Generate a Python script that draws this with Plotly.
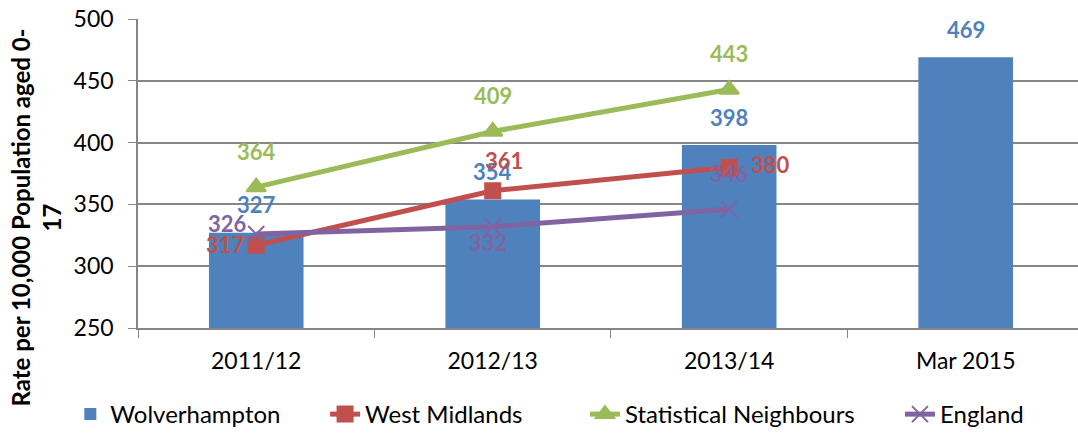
""" Rate per 10,000 population aged 0-17: Wolverhampton vs comparators. """

import plotly.graph_objects as go

# Chart data
periods       = ['2011/12', '2012/13', '2013/14', 'Mar 2015']
wolverhampton = [327, 354, 398, 469]
west_midlands = [317, 361, 380]
stat_neigh    = [364, 409, 443]
england       = [326, 332, 346]

FONT = 'Lato'
BLUE, RED, GREEN, PURPLE = '#4F81BD', '#C0504D', '#9BBB59', '#8064A2'
GRID = '#868686'

fig = go.Figure()

fig.add_trace( go.Bar( x=periods, y=wolverhampton, name='Wolverhampton',
                       marker_color=BLUE, marker_line_width=0, legend='legend' ) )

line_series = [
    ( 'West Midlands', west_midlands, RED, 'square', 15, 'legend2' ),
    ( 'Statistical Neighbours', stat_neigh, GREEN, 'triangle-up', 17, 'legend3' ),
    ( 'England', england, PURPLE, 'x-thin', 16, 'legend4' ),
]
for name, values, colour, symbol, size, leg in line_series:
    fig.add_trace( go.Scatter( x=periods[:len(values)], y=values, name=name,
                               mode='lines+markers', legend=leg,
                               line=dict( color=colour, width=5 ),
                               marker=dict( symbol=symbol, size=size, color=colour,
                                            line=dict( color=colour, width=2 ) ) ) )

# Data labels (offsets in pixels from each point)
def add_labels( values, colour, shifts ):
    for cat, val, (dx, dy) in zip( periods, values, shifts ):
        fig.add_annotation( x=cat, y=val, text=f"<b>{val}</b>", showarrow=False,
                            xshift=dx, yshift=dy, xanchor='center', yanchor='middle',
                            font=dict( family=FONT, size=22, color=colour ) )

add_labels( wolverhampton, BLUE, [(0, 28)] * 4 )
add_labels( stat_neigh, GREEN, [(0, 36)] * 3 )
add_labels( west_midlands, RED, [(-31, 1), (11, 30), (41, 3)] )
add_labels( england, PURPLE, [(-29, 11), (-5, -16), (0, 36)] )

# Y axis title, wrapped like the original
fig.add_annotation( xref='paper', yref='paper', x=-0.109, y=0.356,
                    text="<b>Rate per 10,000 Population aged 0-<br>17</b>",
                    textangle=-90, showarrow=False, xanchor='center', yanchor='middle',
                    font=dict( family=FONT, size=24, color='black' ) )

# one legend per series so the entries sit where the original has them
leg_style = dict( orientation='h', xanchor='left', y=-0.28, yanchor='middle',
                  font=dict( family=FONT, size=24 ), itemwidth=30,
                  bgcolor='rgba(0,0,0,0)' )

fig.update_layout(
    width=1078, height=436,
    margin=dict( l=138, r=0, t=19, b=108, autoexpand=False ),
    plot_bgcolor='white', paper_bgcolor='white',
    font=dict( family=FONT, size=23, color='black' ),
    bargap=0.6,
    showlegend=True,
    legend=dict( x=-0.072, **leg_style ),
    legend2=dict( x=0.199, **leg_style ),
    legend3=dict( x=0.4755, **leg_style ),
    legend4=dict( x=0.8106, **leg_style ),
)
fig.update_xaxes( range=[-0.5, 3.475], showline=True, linecolor=GRID, linewidth=1.5,
                  ticks='outside', tickson='boundaries', ticklen=8, tickcolor=GRID,
                  ticklabelstandoff=12, showgrid=False )
fig.update_yaxes( range=[250, 500], dtick=50, showline=True, linecolor=GRID, linewidth=1.5,
                  ticks='outside', ticklen=8, tickcolor=GRID, ticklabelstandoff=10,
                  ticklabeloverflow='allow',
                  showgrid=True, gridcolor=GRID, gridwidth=1.5, zeroline=False )

# drop the browser's default body margin so the figure fills the window
fig.write_html( "out.html", config={ 'displayModeBar': False },
                post_script="document.body.style.margin = '0';" )
